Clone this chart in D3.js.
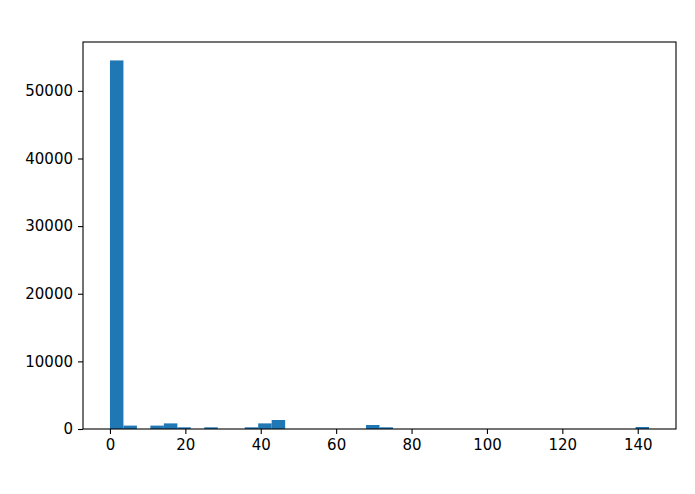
<!DOCTYPE html>
<html><head><meta charset="utf-8">
<script src="https://cdn.jsdelivr.net/npm/d3@7"></script>
<style>body{margin:0;background:#fff}svg{display:block}</style>
</head><body>
<svg id="c" width="695" height="494"></svg>
<script>
// histogram: 40 bins spanning 0..143
const binStart = 0;
const binEnd = 143;
const counts = [54500, 500, 0, 500, 830, 250, 0, 250, 0, 0,
                250, 830, 1330, 0, 0, 0, 0, 0, 0, 590,
                250, 0, 0, 0, 0, 0, 0, 0, 0, 0,
                0, 0, 0, 0, 0, 0, 0, 0, 0, 300];
const xTicks = [0, 20, 40, 60, 80, 100, 120, 140];
const yTicks = [0, 10000, 20000, 30000, 40000, 50000];

const W = 695, H = 494;
const m = {left: 83, right: 676, top: 42, bottom: 429};
const svg = d3.select("#c");
const nb = counts.length;
const bw = (binEnd - binStart) / nb;
const bins = counts.map((c, i) => ({x0: binStart + i * bw, x1: binStart + (i + 1) * bw, c}));
const pad = (binEnd - binStart) * 0.05;
const x = d3.scaleLinear().domain([binStart - pad, binEnd + pad]).range([m.left, m.right]);
const y = d3.scaleLinear().domain([0, d3.max(counts) * 1.05]).range([m.bottom, m.top]);

svg.append("g").selectAll("rect").data(bins.filter(d => d.c > 0)).join("rect")
  .attr("x", d => x(d.x0)).attr("width", d => x(d.x1) - x(d.x0))
  .attr("y", d => y(d.c)).attr("height", d => y(0) - y(d.c))
  .attr("fill", "#1f77b4");

const font = "DejaVu Sans, sans-serif";
const xa = svg.append("g").attr("transform", `translate(0,${m.bottom})`)
  .call(d3.axisBottom(x).tickValues(xTicks).tickFormat(d3.format("d")).tickSize(5).tickPadding(5));
const ya = svg.append("g").attr("transform", `translate(${m.left},0)`)
  .call(d3.axisLeft(y).tickValues(yTicks).tickFormat(d3.format("d")).tickSize(5).tickPadding(5));
[xa, ya].forEach(a => {
  a.select(".domain").remove();
  a.selectAll("line").attr("stroke", "#000").attr("stroke-width", 1.1);
  a.selectAll("text").attr("fill", "#000").style("font-family", font).style("font-size", "15px");
});
svg.append("rect").attr("x", m.left).attr("y", m.top)
  .attr("width", m.right - m.left).attr("height", m.bottom - m.top)
  .attr("fill", "none").attr("stroke", "#000").attr("stroke-width", 1.1);
</script>
</body></html>
